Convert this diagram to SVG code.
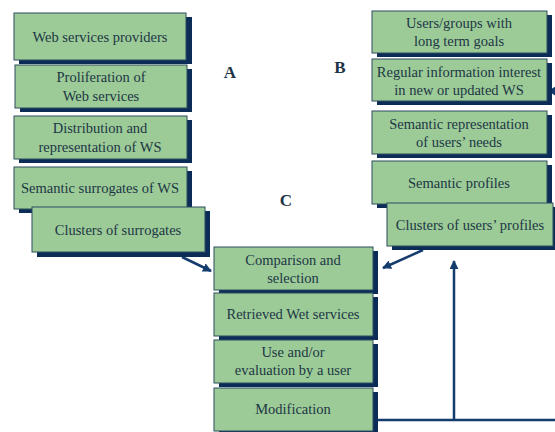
<svg xmlns="http://www.w3.org/2000/svg" width="555" height="432" viewBox="0 0 555 432">
<style>
.sh{fill:#0c2c58}
.bx{fill:#9ccb98;stroke:#2d4d5e;stroke-width:1}
.t{font-family:"Liberation Serif","DejaVu Serif",serif;font-size:14.5px;fill:#1c3644;text-anchor:middle}
.lb{font-family:"Liberation Serif","DejaVu Serif",serif;font-size:17px;font-weight:bold;fill:#1e3446;text-anchor:middle}
.ln{stroke:#143d6e;stroke-width:2.5;fill:none}
</style>
<defs>
<marker id="ah" viewBox="0 0 10 10" refX="9" refY="5" markerWidth="3.6" markerHeight="3.6" orient="auto">
<path d="M0,0L10,5L0,10z" fill="#143d6e"/>
</marker>
</defs>
<rect width="555" height="432" fill="#fff"/>
<g id="labels">
<text class="lb" x="230" y="78">A</text>
<text class="lb" x="340" y="73">B</text>
<text class="lb" x="286" y="206">C</text>
</g>
<g id="connectors">
<path class="ln" d="M182,257L211,271" marker-end="url(#ah)"/>
<path class="ln" d="M423,250L383,268" marker-end="url(#ah)"/>
<path class="ln" d="M376,420H555"/>
<path class="ln" d="M454,420V261" marker-end="url(#ah)"/>
<path d="M556,86L548,91L556,96z" fill="#143d6e"/>
</g>
<g id="n1"><rect class="sh" x="19" y="17" width="173" height="47"/><rect class="bx" x="14" y="13" width="172" height="47"/><text class="t" x="100" y="42">Web services providers</text></g>
<g id="n2"><rect class="sh" x="20" y="69" width="172" height="43"/><rect class="bx" x="15" y="65" width="172" height="43"/><text class="t" x="101" y="82">Proliferation of</text><text class="t" x="101" y="101">Web services</text></g>
<g id="n3"><rect class="sh" x="19" y="120" width="173" height="43"/><rect class="bx" x="14" y="116" width="173" height="43"/><text class="t" x="100" y="133">Distribution and</text><text class="t" x="100" y="152">representation of WS</text></g>
<g id="n4"><rect class="sh" x="19" y="171" width="173" height="42"/><rect class="bx" x="14" y="167" width="173" height="42"/><text class="t" x="100" y="193">Semantic surrogates of WS</text></g>
<g id="n5"><rect class="sh" x="37" y="211" width="173" height="46"/><rect class="bx" x="32" y="207" width="173" height="45"/><text class="t" x="118" y="235">Clusters of surrogates</text></g>
<g id="n6"><rect class="sh" x="219" y="251" width="159" height="43"/><rect class="bx" x="214" y="247" width="159" height="43"/><text class="t" x="293" y="265">Comparison and</text><text class="t" x="293" y="283">selection</text></g>
<g id="n7"><rect class="sh" x="219" y="297" width="159" height="43"/><rect class="bx" x="214" y="293" width="159" height="43"/><text class="t" x="293" y="319">Retrieved Wet services</text></g>
<g id="n8"><rect class="sh" x="219" y="344" width="159" height="43"/><rect class="bx" x="214" y="340" width="159" height="43"/><text class="t" x="293" y="357">Use and/or</text><text class="t" x="293" y="375">evaluation by a user</text></g>
<g id="n9"><rect class="sh" x="219" y="392" width="159" height="44"/><rect class="bx" x="214" y="388" width="159" height="43"/><text class="t" x="293" y="414">Modification</text></g>
<g id="n10"><rect class="sh" x="377" y="15" width="175" height="42"/><rect class="bx" x="372" y="11" width="175" height="42"/><text class="t" x="459" y="28">Users/groups with</text><text class="t" x="459" y="46">long term goals</text></g>
<g id="n11"><rect class="sh" x="377" y="63" width="175" height="42"/><rect class="bx" x="372" y="59" width="175" height="42"/><text class="t" x="459" y="77">Regular information interest</text><text class="t" x="459" y="95">in new or updated WS</text></g>
<g id="n12"><rect class="sh" x="377" y="115" width="175" height="43"/><rect class="bx" x="372" y="111" width="175" height="43"/><text class="t" x="459" y="129">Semantic representation</text><text class="t" x="459" y="147">of users’ needs</text></g>
<g id="n13"><rect class="sh" x="377" y="165" width="175" height="43"/><rect class="bx" x="372" y="161" width="175" height="43"/><text class="t" x="459" y="188">Semantic profiles</text></g>
<g id="n14"><rect class="sh" x="392" y="207" width="166" height="43"/><rect class="bx" x="387" y="203" width="166" height="43"/><text class="t" x="470" y="230">Clusters of users’ profiles</text></g>
</svg>
